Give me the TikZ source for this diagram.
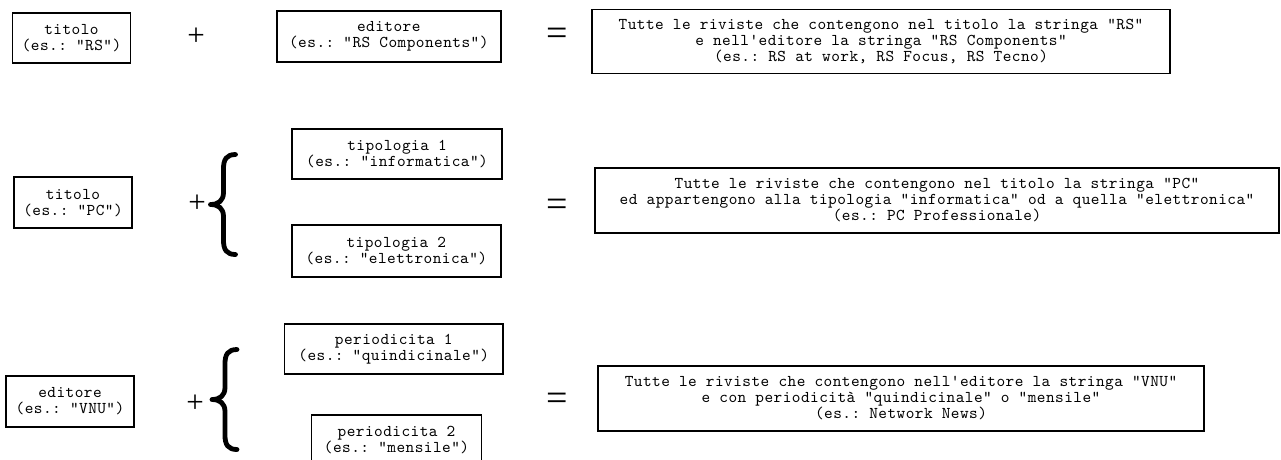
\documentclass[tikz,border=0pt]{standalone}
\usepackage{fontspec}
\setmonofont{lmmono10-regular.otf}[LetterSpace=2.8]
\newfontfamily\symfont{Liberation Serif}
\tikzset{
  x=1pt, y=-1pt,
  qbox/.style={draw, line width=1.8pt, inner sep=0pt, align=center,
    font=\ttfamily\frenchspacing\fontsize{16.5}{16}\selectfont},
  plussign/.style={inner sep=0pt, font=\symfont\fontsize{31}{31}\selectfont},
  eqsign/.style={inner sep=0pt, font=\symfont\fontsize{38}{38}\selectfont},
  bracepath/.style={line width=4.8pt, line cap=round, line join=round},
  mybrace/.pic={
    \draw[bracepath] (25,-50) .. controls (16,-50) and (13,-45) .. (13,-36)
      -- (13,-12) .. controls (13,-4) and (8,0) .. (0,0)
      .. controls (8,0) and (13,4) .. (13,12)
      -- (13,36) .. controls (13,45) and (16,50) .. (25,50);
  }
}
\begin{document}
\begin{tikzpicture}
\useasboundingbox (0,0) rectangle (1281,459);
% row 1
\node[qbox, minimum width=118pt, minimum height=50pt] (r1a) at (71.5,38) {titolo\\(es.: "RS")};
\node[plussign] (plus1) at (196,37) {+};
\node[qbox, minimum width=224pt, minimum height=50.7pt] (r1b) at (388.8,36.3) {editore\\(es.: "RS Components")};
\node[eqsign] (eq1) at (557,37) {=};
\node[qbox, minimum width=578pt, minimum height=64pt] (r1c) at (881,41.4)
  {Tutte le riviste che contengono nel titolo la stringa "RS"\\e nell'editore la stringa "RS Components"\\(es.: RS at work, RS Focus, RS Tecno)};
% row 2
\node[qbox, minimum width=117.5pt, minimum height=51pt] (r2a) at (73,202.8) {titolo\\(es.: "PC")};
\node[plussign] (plus2) at (197,203.3) {+};
\pic at (210.5,204.5) {mybrace};
\node[qbox, minimum width=210pt, minimum height=50pt] (r2b) at (397,153.8) {tipologia 1\\(es.: "informatica")};
\node[qbox, minimum width=209pt, minimum height=51.7pt] (r2c) at (396.3,250.8) {tipologia 2\\(es.: "elettronica")};
\node[eqsign] (eq2) at (557,208.3) {=};
\node[qbox, minimum width=684pt, minimum height=64.4pt] (r2d) at (937,200.5)
  {Tutte le riviste che contengono nel titolo la stringa "PC"\\ed appartengono alla tipologia "informatica" od a quella "elettronica"\\(es.: PC Professionale)};
% row 3
\node[qbox, minimum width=128pt, minimum height=50.7pt] (r3a) at (70,401.3) {editore\\(es.: "VNU")};
\node[plussign] (plus3) at (195,404) {+};
\pic at (212,399.5) {mybrace};
\node[qbox, minimum width=218.5pt, minimum height=50pt] (r3b) at (393.8,349) {periodicita 1\\(es.: "quindicinale")};
\node[qbox, minimum width=170pt, minimum height=51pt] (r3c) at (396.5,440.5) {periodicita 2\\(es.: "mensile")};
\node[eqsign] (eq3) at (557,401.7) {=};
\node[qbox, minimum width=606pt, minimum height=64.7pt] (r3d) at (901,398.3)
  {Tutte le riviste che contengono nell'editore la stringa "VNU"\\e con periodicità "quindicinale" o "mensile"\\(es.: Network News)};
\end{tikzpicture}
\end{document}
